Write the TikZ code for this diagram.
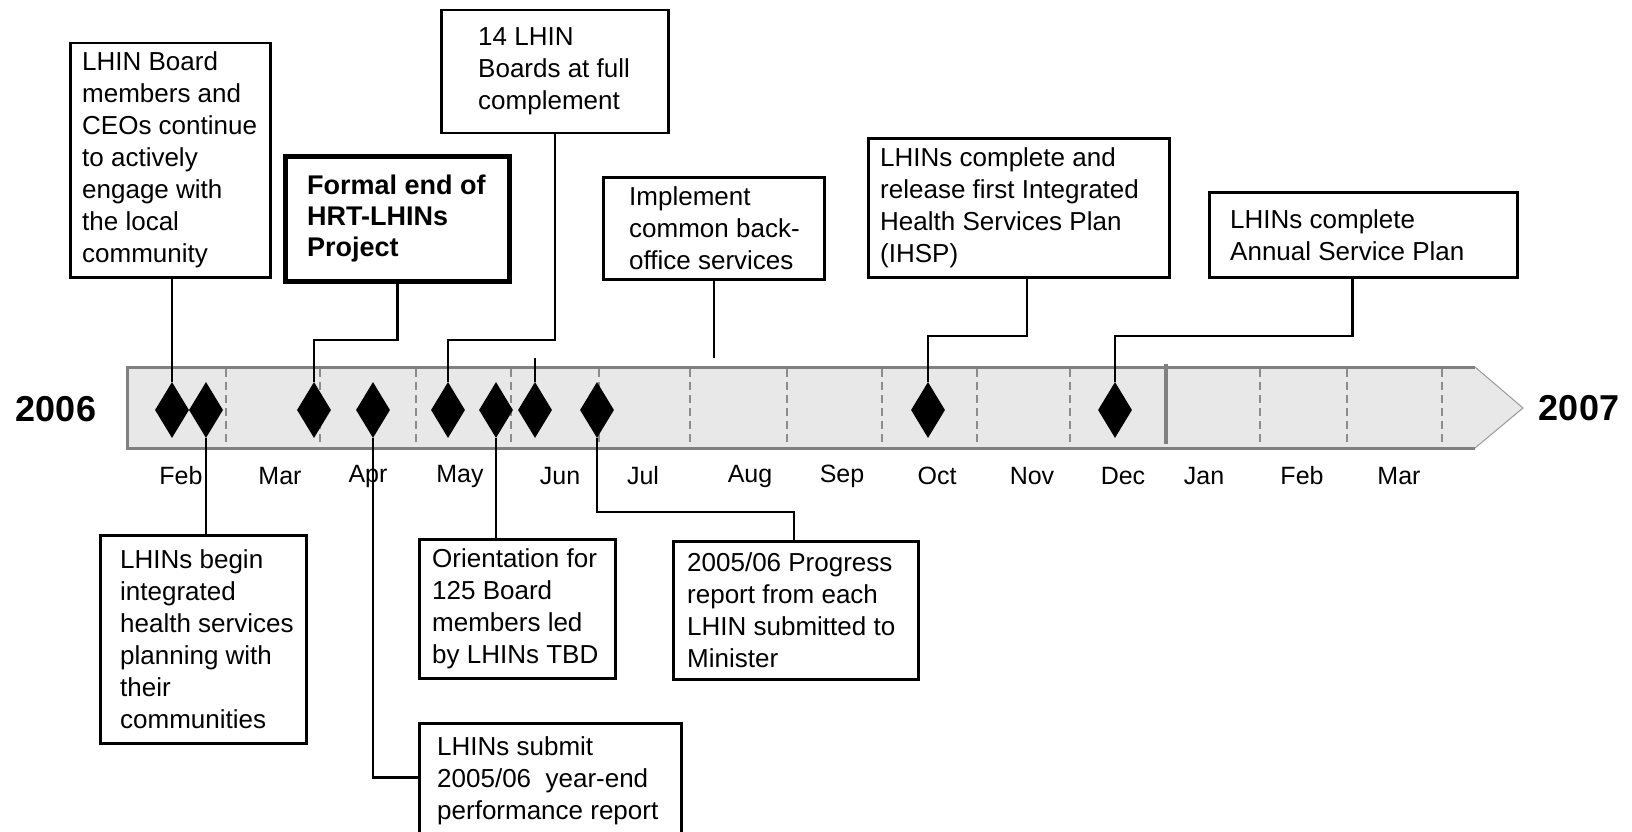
\documentclass[tikz,border=0pt]{standalone}
\usepackage{fontspec}
\setmainfont{Liberation Sans}
\usetikzlibrary{shapes.geometric}
\definecolor{barfill}{HTML}{E8E8E8}
\definecolor{bargray}{HTML}{808080}
\definecolor{dashgray}{HTML}{8C8C8C}
\tikzset{
  evbox/.style={draw=black, line width=2.5pt, fill=white, inner sep=0pt, anchor=north west},
  thickbox/.style={evbox, line width=5pt},
  evtext/.style={inner sep=0pt, anchor=west, align=left, font=\fontsize{26}{32}\selectfont},
  boldtext/.style={evtext, font=\fontsize{27}{31}\selectfont\bfseries},
  dia/.style={diamond, fill=black, draw=none, inner sep=0pt, minimum width=34pt, minimum height=56pt},
  conn/.style={draw=black, line width=2.5pt},
  month/.style={inner sep=0pt, font=\fontsize{25}{30}\selectfont},
  year/.style={inner sep=0pt, font=\fontsize{36}{40}\selectfont\bfseries},
  monthline/.style={draw=dashgray, line width=1.5pt, dash pattern=on 8pt off 5pt},
}
\begin{document}
\begin{tikzpicture}[x=1pt,y=-1pt]
\useasboundingbox (0,0) rectangle (1632,832);
\fill[white] (0,0) rectangle (1632,832);

% timeline bar
\fill[barfill] (127,367) -- (1475,367) -- (1523,408) -- (1475,448) -- (127,448) -- cycle;
\foreach \mx in {226,320,416,511,599,690,787,882,977,1070,1260,1347,1442}
  \draw[monthline] (\mx,369) -- (\mx,446);
\draw[bargray, line width=4pt] (1166,364) -- (1166,444);
\draw[bargray, line width=3pt] (1475,367) -- (127,367) -- (127,448) -- (1475,448);
\draw[bargray!80, line width=1pt] (1475,367) -- (1523,408) -- (1475,448);

% years
\node[year] (y2006) at (56,409) {2006};
\node[year] (y2007) at (1579,408) {2007};

% months
\node[month] (m1) at (181,476) {Feb};
\node[month] (m2) at (280,476) {Mar};
\node[month] (m3) at (368,476) {Apr};
\node[month] (m4) at (460,476) {May};
\node[month] (m5) at (560,476) {Jun};
\node[month] (m6) at (643,476) {Jul};
\node[month] (m7) at (750,476) {Aug};
\node[month] (m8) at (842,476) {Sep};
\node[month] (m9) at (937,476) {Oct};
\node[month] (m10) at (1032,476) {Nov};
\node[month] (m11) at (1123,476) {Dec};
\node[month] (m12) at (1204,476) {Jan};
\node[month] (m13) at (1302,476) {Feb};
\node[month] (m14) at (1399,476) {Mar};

% diamonds
\node[dia] (d1) at (172,410) {};
\node[dia] (d2) at (206,410) {};
\node[dia] (d3) at (314,410) {};
\node[dia] (d4) at (373,410) {};
\node[dia] (d5) at (448,410) {};
\node[dia] (d6) at (496,410) {};
\node[dia] (d7) at (535,410) {};
\node[dia] (d8) at (597,410) {};
\node[dia] (d9) at (928,410) {};
\node[dia] (d10) at (1115,410) {};

% top boxes
\node[evbox, minimum width=200pt, minimum height=234pt] (b1) at (69,42) {};
\node[evtext] (t1) at ([xshift=13pt]b1.west) {LHIN Board\\members and\\CEOs continue\\to actively\\engage with\\the local\\community};

\node[thickbox, minimum width=224pt, minimum height=125pt] (b2) at (283,154) {};
\node[boldtext] (t2) at ([xshift=24pt]b2.west) {Formal end of\\HRT-LHINs\\Project};

\node[evbox, minimum width=227pt, minimum height=123pt] (b3) at (440,9) {};
\node[evtext] (t3) at ([xshift=38pt]b3.west) {14 LHIN\\Boards at full\\complement};

\node[evbox, minimum width=221pt, minimum height=102pt] (b4) at (602,176) {};
\node[evtext] (t4) at ([xshift=27pt]b4.west) {Implement\\common back-\\office services};

\node[evbox, minimum width=301pt, minimum height=139pt] (b5) at (867,137) {};
\node[evtext] (t5) at ([xshift=13pt]b5.west) {LHINs complete and\\release first Integrated\\Health Services Plan\\(IHSP)};

\node[evbox, minimum width=308pt, minimum height=85pt] (b6) at (1208,191) {};
\node[evtext] (t6) at ([xshift=22pt]b6.west) {LHINs complete\\Annual Service Plan};

% bottom boxes
\node[evbox, minimum width=206pt, minimum height=208pt] (b7) at (99,534) {};
\node[evtext] (t7) at ([xshift=21pt]b7.west) {LHINs begin\\integrated\\health services\\planning with\\their\\communities};

\node[evbox, minimum width=196pt, minimum height=139pt] (b8) at (418,538) {};
\node[evtext] (t8) at ([xshift=14pt]b8.west) {Orientation for\\125 Board\\members led\\by LHINs TBD};

\node[evbox, minimum width=245pt, minimum height=138pt] (b9) at (672,540) {};
\node[evtext] (t9) at ([xshift=15pt]b9.west) {2005/06 Progress\\report from each\\LHIN submitted to\\Minister};

\node[evbox, minimum width=262pt, minimum height=116pt] (b10) at (418,722) {};
\node[evtext] (t10) at ([xshift=19pt]b10.west) {LHINs submit\\2005/06 \ year-end\\performance report};

% connectors
\coordinate (s4) at (713,358);
\draw[conn] (d1.north) -- (d1.north |- b1.south);
\draw[conn] (b2.south) |- ([yshift=42pt]d3.north) -- (d3.north);
\draw[conn] (b3.south) |- ([yshift=42pt]d5.north) -- (d5.north);
\draw[conn] (b4.south) -- (b4.south |- s4);
\draw[conn] (d7.north) -- (d7.north |- s4);
\draw[conn] ([xshift=8pt]b5.south) |- ([yshift=46pt]d9.north) -- (d9.north);
\draw[conn] ([xshift=-11pt]b6.south) |- ([yshift=46pt]d10.north) -- (d10.north);
\draw[conn] (d2.south) -- (d2.south |- b7.north);
\draw[conn] (d6.south) -- (d6.south |- b8.north);
\draw[conn] ([xshift=-2pt]b9.north) |- ([yshift=-74pt]d8.south) -- (d8.south);
\draw[conn] ([yshift=4pt]b10.west) -| (d4.south);
\end{tikzpicture}
\end{document}
